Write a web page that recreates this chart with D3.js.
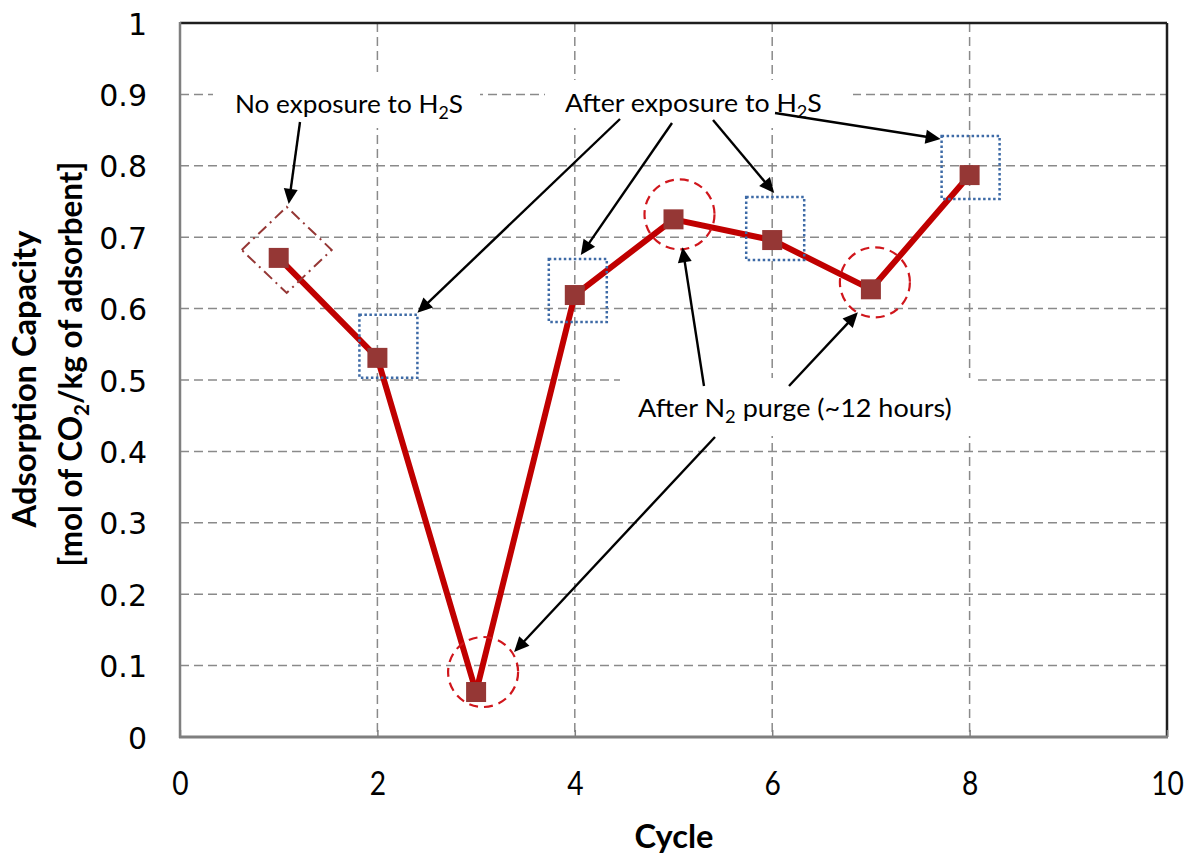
<!DOCTYPE html>
<html>
<head>
<meta charset="utf-8">
<script src="https://cdn.jsdelivr.net/npm/d3@7"></script>
<style>
  body { margin: 0; background: #fff; }
  svg { display: block; }
</style>
</head>
<body>
<div id="chart"></div>
<script>
// data
var cycles = [1, 2, 3, 4, 5, 6, 7, 8];
var capacity = [0.671, 0.531, 0.063, 0.619, 0.725, 0.696, 0.627, 0.787];
var xTicks = [0, 2, 4, 6, 8, 10];
var yTicks = [0, 0.1, 0.2, 0.3, 0.4, 0.5, 0.6, 0.7, 0.8, 0.9, 1];
var noExposureCycles = [1];
var exposureCycles = [2, 4, 6, 8];
var purgeCycles = [3, 5, 7];

var width = 1191, height = 859;
var plotLeft = 180, plotRight = 1167, plotTop = 23, plotBottom = 737;

var svg = d3.select("#chart").append("svg")
  .attr("width", width)
  .attr("height", height);

var x = d3.scaleLinear().domain([0, 10]).range([plotLeft, plotRight]);
var y = d3.scaleLinear().domain([0, 1]).range([plotBottom, plotTop]);

var gridCol = "#8a8a8a";
var lineCol = "#c00000";
var markCol = "#953735";
var blueCol = "#3d6aa6";
var txtFont = "Lato, 'Noto Sans', sans-serif";

// gridlines
svg.append("g").selectAll("line")
  .data(yTicks.filter(function(d){ return d > 0 && d < 1; }))
  .enter().append("line")
    .attr("x1", plotLeft).attr("x2", plotRight)
    .attr("y1", function(d){ return y(d); })
    .attr("y2", function(d){ return y(d); })
    .style("stroke", gridCol)
    .style("stroke-width", 1.5)
    .style("stroke-dasharray", "9,5");
svg.append("g").selectAll("line")
  .data(xTicks.filter(function(d){ return d > 0 && d < 10; }))
  .enter().append("line")
    .attr("y1", plotTop).attr("y2", plotBottom)
    .attr("x1", function(d){ return x(d); })
    .attr("x2", function(d){ return x(d); })
    .style("stroke", gridCol)
    .style("stroke-width", 1.5)
    .style("stroke-dasharray", "9,5");

// plot frame
svg.append("line").attr("x1", plotLeft).attr("x2", plotRight).attr("y1", plotTop).attr("y2", plotTop)
  .style("stroke", "#1e1e1e").style("stroke-width", 2.5);
svg.append("line").attr("x1", plotRight).attr("x2", plotRight).attr("y1", plotTop).attr("y2", plotBottom)
  .style("stroke", "#1e1e1e").style("stroke-width", 2.5);
svg.append("line").attr("x1", plotLeft).attr("x2", plotLeft).attr("y1", plotTop - 1).attr("y2", plotBottom + 1)
  .style("stroke", "#7f7f7f").style("stroke-width", 2.5);
svg.append("line").attr("x1", plotLeft - 1).attr("x2", plotRight + 1).attr("y1", plotBottom).attr("y2", plotBottom)
  .style("stroke", "#7f7f7f").style("stroke-width", 3);

// axes (labels only)
var xAxis = svg.append("g")
  .attr("transform", "translate(0," + plotBottom + ")")
  .call(d3.axisBottom(x).tickValues(xTicks).tickSize(-7).tickPadding(0).tickFormat(d3.format("d")));
xAxis.select(".domain").remove();
xAxis.selectAll(".tick line").style("stroke", "#7f7f7f").style("stroke-width", 1.5);
xAxis.selectAll("text")
  .attr("y", 0).attr("dy", 0)
  .attr("transform", "translate(0,58) scale(0.88,1)")
  .style("font-family", txtFont)
  .style("font-size", "32px")
  .style("fill", "#000");

var yAxis = svg.append("g")
  .attr("transform", "translate(" + plotLeft + ",0)")
  .call(d3.axisLeft(y).tickValues(yTicks).tickSize(0).tickPadding(0)
    .tickFormat(function(d){ return d === 0 || d === 1 ? String(d) : d3.format(".1f")(d); }));
yAxis.select(".domain").remove();
yAxis.selectAll("text")
  .attr("x", -33).attr("dy", 11)
  .style("font-family", "'DejaVu Sans', Verdana, sans-serif")
  .style("font-size", "30px")
  .style("fill", "#000");

// helper: squeeze a text group to a target width
function fitWidth(g, target) {
  var w = g.select("text").node().getBBox().width;
  g.select("text").attr("transform", "scale(" + (target / w) + ",1)");
}

// axis titles
var cyc = svg.append("g").attr("transform", "translate(674,848)");
cyc.append("text")
  .attr("text-anchor", "middle")
  .style("font-family", txtFont).style("font-weight", "bold").style("font-size", "33px")
  .text("Cycle");
fitWidth(cyc, 79);

var yt1 = svg.append("g").attr("transform", "translate(36,379) rotate(-90)");
yt1.append("text")
  .attr("text-anchor", "middle")
  .style("font-family", txtFont).style("font-weight", "bold").style("font-size", "32px")
  .text("Adsorption Capacity");
fitWidth(yt1, 298);

var yt2 = svg.append("g").attr("transform", "translate(82,364) rotate(-90)");
var t2 = yt2.append("text")
  .attr("text-anchor", "middle")
  .style("font-family", txtFont).style("font-weight", "bold").style("font-size", "32px");
t2.append("tspan").text("[mol of CO");
t2.append("tspan").attr("dy", 7).style("font-size", "21px").text("2");
t2.append("tspan").attr("dy", -7).text("/kg of adsorbent]");
fitWidth(yt2, 405);

// series line and markers
var pts = cycles.map(function(c, i){ return {c: c, v: capacity[i]}; });
var line = d3.line().x(function(d){ return x(d.c); }).y(function(d){ return y(d.v); });
svg.append("path")
  .datum(pts)
  .attr("d", line)
  .style("fill", "none")
  .style("stroke", lineCol)
  .style("stroke-width", 6)
  .style("stroke-linejoin", "round");
svg.append("g").selectAll("rect")
  .data(pts)
  .enter().append("rect")
    .attr("x", function(d){ return x(d.c) - 10; })
    .attr("y", function(d){ return y(d.v) - 10; })
    .attr("width", 20).attr("height", 20)
    .style("fill", markCol);

function valueAt(c) { return capacity[cycles.indexOf(c)]; }

// highlight shapes
noExposureCycles.forEach(function(c){
  var cx = x(c) + 8, cy = y(valueAt(c)) - 8;
  svg.append("path")
    .attr("d", "M" + (cx - 45) + "," + cy + "L" + cx + "," + (cy - 43) +
               "L" + (cx + 45) + "," + cy + "L" + cx + "," + (cy + 43) + "Z")
    .style("fill", "none")
    .style("stroke", markCol)
    .style("stroke-width", 2)
    .style("stroke-dasharray", "11,5,2,5");
});

var boxShift = {2: [-18, -43], 4: [-26, -36], 6: [-26, -43], 8: [-28, -39]};
exposureCycles.forEach(function(c){
  var s = boxShift[c] || [-24, -40];
  svg.append("rect")
    .attr("x", x(c) + s[0]).attr("y", y(valueAt(c)) + s[1])
    .attr("width", 58).attr("height", 63)
    .style("fill", "none")
    .style("stroke", blueCol)
    .style("stroke-width", 2.5)
    .style("stroke-dasharray", "2.5,2.5");
});

var circShift = {3: [7, -20], 5: [6, -5], 7: [4, -7]};
purgeCycles.forEach(function(c){
  var s = circShift[c] || [5, -8];
  svg.append("circle")
    .attr("cx", x(c) + s[0]).attr("cy", y(valueAt(c)) + s[1])
    .attr("r", 35)
    .style("fill", "none")
    .style("stroke", "#d0161c")
    .style("stroke-width", 2.2)
    .style("stroke-dasharray", "9,6");
});

// annotation labels with white boxes
function label(bx, by, bw, bh, tx, ty, tw, parts) {
  svg.append("rect").attr("x", bx).attr("y", by).attr("width", bw).attr("height", bh)
    .style("fill", "#fff");
  var g = svg.append("g").attr("transform", "translate(" + tx + "," + ty + ")");
  var t = g.append("text")
    .style("font-family", txtFont).style("font-size", "25px").style("fill", "#000");
  parts.forEach(function(p){
    if (p.sub) {
      t.append("tspan").attr("dy", 6).style("font-size", "17px").text(p.s);
    } else {
      t.append("tspan").attr("dy", p.after ? -6 : 0).text(p.s);
    }
  });
  fitWidth(g, tw);
}
label(213, 72, 267, 56, 235, 113, 228,
  [{s: "No exposure to H"}, {s: "2", sub: true}, {s: "S", after: true}]);
label(545, 80, 308, 48, 565, 112, 257,
  [{s: "After exposure to H"}, {s: "2", sub: true}, {s: "S", after: true}]);
label(620, 378, 355, 58, 638, 417, 314,
  [{s: "After N"}, {s: "2", sub: true}, {s: " purge (~12 hours)", after: true}]);

// arrows
function arrow(x1, y1, x2, y2) {
  var dx = x2 - x1, dy = y2 - y1, len = Math.sqrt(dx * dx + dy * dy);
  var ux = dx / len, uy = dy / len;
  var hl = 15, hw = 7;
  svg.append("line")
    .attr("x1", x1).attr("y1", y1)
    .attr("x2", x2 - ux * (hl - 2)).attr("y2", y2 - uy * (hl - 2))
    .style("stroke", "#000").style("stroke-width", 2.4);
  var bx = x2 - ux * hl, by = y2 - uy * hl;
  svg.append("path")
    .attr("d", "M" + x2 + "," + y2 +
               "L" + (bx - uy * hw) + "," + (by + ux * hw) +
               "L" + (bx + uy * hw) + "," + (by - ux * hw) + "Z")
    .style("fill", "#000");
}
var p1 = [x(1), y(valueAt(1))];
arrow(300, 122, p1[0] + 10, p1[1] - 54);
arrow(620, 119, x(2) + 40, y(valueAt(2)) - 45);
arrow(672, 123, x(4) + 6, y(valueAt(4)) - 40);
arrow(713, 120, x(6) + 2, y(valueAt(6)) - 47);
arrow(775, 113, x(8) - 29, y(valueAt(8)) - 36);
arrow(704, 386, x(5) + 9, y(valueAt(5)) + 28);
arrow(789, 386, x(7) - 13, y(valueAt(7)) + 23);
arrow(715, 437, x(3) + 38, y(valueAt(3)) - 40);
</script>
</body>
</html>
